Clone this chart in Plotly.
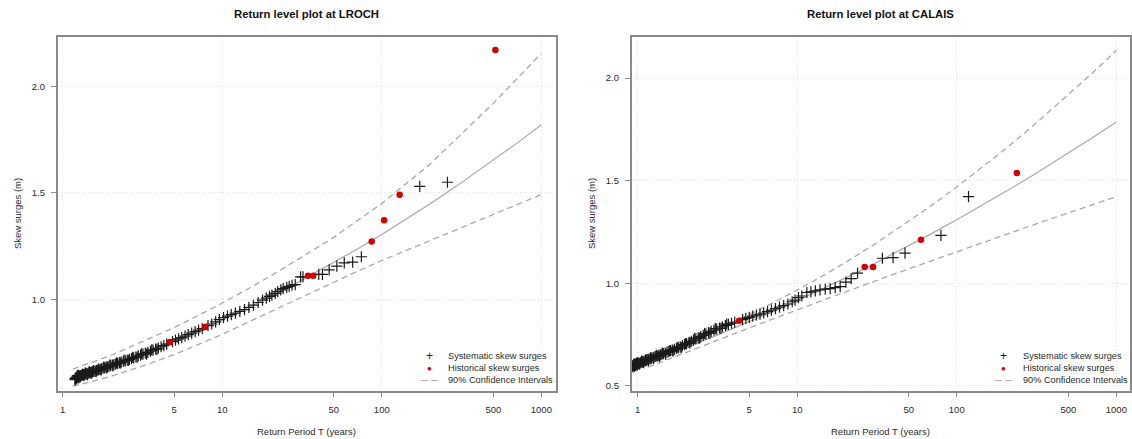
import plotly.graph_objects as go

# ---------------- LROCH ----------------
lroch_sys_T = [
    1.20, 1.21, 1.22, 1.23, 1.24, 1.25, 1.26, 1.27, 1.28,
    1.30, 1.31, 1.32, 1.34, 1.35, 1.37, 1.38, 1.40, 1.42, 1.44, 1.46, 1.48, 1.50, 1.52, 1.54, 1.57, 1.60,
    1.63, 1.66, 1.69, 1.72, 1.75, 1.79, 1.83, 1.87, 1.91, 1.95, 2.00,
    2.05, 2.10, 2.15, 2.21, 2.27, 2.33, 2.40, 2.47, 2.54, 2.62, 2.70, 2.79, 2.88, 2.98,
    3.08, 3.19, 3.30, 3.42, 3.55, 3.69, 3.83, 3.98, 4.14, 4.31, 4.49,
    4.88, 5.10, 5.33, 5.58, 5.85, 6.13, 6.44, 6.77, 7.12, 7.50,
    8.15, 8.60, 9.10, 9.60, 10.2, 10.8, 11.4, 12.1, 12.9, 13.8, 14.7, 15.7, 16.8, 17.9, 18.9,
    19.8, 20.5, 21.5, 22.3, 23.3, 24.1, 25.4, 26.3, 27.4, 28.7,
    31.0, 32.1, 40.3, 42.5, 46.8, 52.3, 58.2, 65.7, 74.5, 173, 258,
    1.195, 1.205, 1.215, 1.225, 1.235, 1.245, 1.255, 1.265, 1.29, 1.33, 1.36,
    1.39, 1.43, 1.47, 1.51, 1.56, 1.62, 1.68, 1.74, 1.81, 1.89, 1.98,
    2.07, 2.18, 2.30, 2.43, 2.58, 2.75, 2.93, 3.13, 3.36, 3.62, 3.90,
]
lroch_sys_v = [
    0.628, 0.632, 0.630, 0.634, 0.633, 0.636, 0.637, 0.638, 0.640,
    0.641, 0.642, 0.643, 0.645, 0.646, 0.647, 0.648, 0.650, 0.651, 0.652, 0.654, 0.655, 0.656, 0.658, 0.659, 0.661, 0.663,
    0.665, 0.667, 0.669, 0.671, 0.673, 0.676, 0.678, 0.681, 0.683, 0.685, 0.688,
    0.691, 0.693, 0.696, 0.699, 0.702, 0.705, 0.708, 0.711, 0.714, 0.718, 0.721, 0.725, 0.729, 0.734,
    0.738, 0.742, 0.747, 0.751, 0.756, 0.761, 0.766, 0.771, 0.777, 0.782, 0.789,
    0.801, 0.808, 0.814, 0.820, 0.827, 0.834, 0.841, 0.848, 0.855, 0.862,
    0.876, 0.884, 0.894, 0.905, 0.914, 0.921, 0.928, 0.935, 0.943, 0.952, 0.962, 0.973, 0.985, 0.996, 1.006,
    1.014, 1.020, 1.028, 1.036, 1.044, 1.050, 1.056, 1.061, 1.066, 1.069,
    1.105, 1.105, 1.117, 1.117, 1.138, 1.156, 1.171, 1.175, 1.200, 1.531, 1.550,
    0.622, 0.625, 0.627, 0.629, 0.640, 0.641, 0.643, 0.631, 0.636, 0.649, 0.641,
    0.654, 0.646, 0.660, 0.652, 0.665, 0.660, 0.672, 0.668, 0.681, 0.678, 0.692,
    0.687, 0.701, 0.700, 0.714, 0.713, 0.727, 0.728, 0.744, 0.742, 0.762, 0.765,
]
lroch_hist_T = [4.7, 7.8, 34.5, 37.2, 86.5, 103.5, 129.5, 515]
lroch_hist_v = [0.800, 0.870, 1.111, 1.111, 1.272, 1.371, 1.491, 2.171]

lroch_curve_T = [1.16, 1.5, 2, 3, 5, 7, 10, 15, 20, 30, 50, 70, 100, 150, 200, 300, 500, 700, 1000]
lroch_fit = [0.630, 0.6574, 0.6897, 0.7383, 0.8045, 0.8512, 0.9032, 0.9658, 1.0123, 1.0808,
             1.1722, 1.2353, 1.305, 1.3875, 1.448, 1.5366, 1.653, 1.7328, 1.82]
lroch_hi = [0.672, 0.7021, 0.7359, 0.7940, 0.8672, 0.9227, 0.9816, 1.0556, 1.108, 1.189,
            1.2911, 1.3685, 1.4506, 1.558, 1.6342, 1.761, 1.9208, 2.0348, 2.1556]
lroch_lo = [0.592, 0.612, 0.638, 0.680, 0.740, 0.785, 0.835, 0.897, 0.940, 1.000,
            1.080, 1.1311, 1.1823, 1.2366, 1.2754, 1.330, 1.3988, 1.4441, 1.4922]

# ---------------- CALAIS ----------------
calais_sys_T = [
    0.93, 0.94, 0.95, 0.96, 0.97, 0.98, 0.99, 1.00, 1.01, 1.02,
    1.04, 1.05, 1.07, 1.08, 1.10, 1.12, 1.14, 1.16, 1.18, 1.20,
    1.22, 1.25, 1.27, 1.30, 1.33, 1.36, 1.39, 1.42, 1.45, 1.49,
    1.53, 1.57, 1.61, 1.65, 1.70, 1.75, 1.80, 1.85, 1.91, 1.97,
    2.03, 2.10, 2.17, 2.24, 2.32, 2.40, 2.49, 2.58, 2.68, 2.78,
    2.89, 3.01, 3.13, 3.26, 3.40, 3.55, 3.71, 3.88, 4.06,
    4.55, 4.77, 5.01, 5.27, 5.55, 5.85, 6.17, 6.52, 6.90, 7.31,
    7.75, 8.23, 8.75, 9.31, 9.70, 10.2, 10.7, 11.5, 12.2, 13.0,
    13.9, 15.0, 16.1, 17.3, 18.6, 20.2, 21.8, 23.9, 34.2, 39.9, 47.4, 79.6, 118.5,
    0.935, 0.945, 0.955, 0.965, 0.975, 0.985, 0.995, 1.005, 1.03, 1.06, 1.09,
    1.13, 1.17, 1.21, 1.26, 1.31, 1.37, 1.43, 1.50, 1.59, 1.67, 1.77,
    1.88, 2.00, 2.13, 2.28, 2.45, 2.63, 2.84, 3.07, 3.33, 3.62,
]
calais_sys_v = [
    0.598, 0.600, 0.601, 0.602, 0.603, 0.605, 0.606, 0.607, 0.608, 0.610,
    0.612, 0.614, 0.616, 0.618, 0.620, 0.623, 0.625, 0.628, 0.630, 0.632,
    0.634, 0.638, 0.640, 0.643, 0.646, 0.648, 0.651, 0.654, 0.657, 0.660,
    0.664, 0.667, 0.671, 0.674, 0.678, 0.682, 0.686, 0.690, 0.696, 0.701,
    0.706, 0.712, 0.717, 0.723, 0.729, 0.734, 0.740, 0.746, 0.752, 0.759,
    0.765, 0.771, 0.777, 0.782, 0.788, 0.794, 0.800, 0.805, 0.810,
    0.823, 0.829, 0.834, 0.840, 0.845, 0.850, 0.855, 0.862, 0.869, 0.876,
    0.884, 0.891, 0.899, 0.910, 0.918, 0.930, 0.938, 0.955, 0.958, 0.963,
    0.968, 0.971, 0.974, 0.979, 0.984, 1.006, 1.023, 1.049, 1.122, 1.125, 1.147, 1.233, 1.422,
    0.592, 0.605, 0.595, 0.608, 0.598, 0.611, 0.601, 0.613, 0.606, 0.620, 0.613,
    0.628, 0.623, 0.638, 0.633, 0.648, 0.643, 0.659, 0.654, 0.672, 0.669, 0.687,
    0.686, 0.706, 0.708, 0.731, 0.733, 0.755, 0.757, 0.779, 0.780, 0.801,
]
calais_hist_T = [4.33, 26.5, 29.9, 59.7, 238]
calais_hist_v = [0.817, 1.079, 1.079, 1.2125, 1.538]

calais_fit_T = [0.93, 1.16, 1.5, 2, 3, 5, 7, 10, 15, 20, 30, 50, 70, 100, 150, 200, 300, 500, 700, 1000]
calais_fit = [0.5914, 0.6179, 0.6496, 0.6862, 0.7400, 0.8114, 0.8606, 0.9146, 0.9783, 1.0251,
              1.0931, 1.1823, 1.2433, 1.3098, 1.3877, 1.4445, 1.5268, 1.6339, 1.7066, 1.7856]
calais_ci_T = [1.16, 1.5, 2, 3, 5, 7, 10, 15, 20, 30, 50, 70, 100, 150, 200, 300, 500, 700, 1000]
calais_hi = [0.6439, 0.6749, 0.7120, 0.7686, 0.8472, 0.9033, 0.9666, 1.0433, 1.1007, 1.1861,
             1.3009, 1.3808, 1.4693, 1.5747, 1.6524, 1.7666, 1.9175, 2.0212, 2.135]
calais_lo = [0.5907, 0.6248, 0.6627, 0.7158, 0.7819, 0.8251, 0.8704, 0.9215, 0.9575, 1.0077,
             1.0704, 1.1112, 1.1541, 1.2024, 1.2364, 1.2839, 1.343, 1.3815, 1.422]

x_tickvals = [1, 5, 10, 50, 100, 500, 1000]
x_ticktext = ["1", "5", "10", "50", "100", "500", "1000"]
x_gridvals = [1, 10, 100, 1000]

legend_labels = ["Systematic skew surges", "Historical skew surges", "90% Confidence Intervals"]

W, H = 1132, 439
FONT = "Liberation Sans, Arial, Helvetica, sans-serif"
CURVE_COL = "#a8a8a8"
BOX_COL = "#8a8a8a"
GRID_COL = "#e2e2e2"
TXT_COL = "#2b2b2b"
PLUS_COL = "#1a1a1a"


def px(x):
    return x / W


def py(y):
    return 1 - y / H


fig = go.Figure()

panels = [
    dict(title="Return level plot at LROCH", xa="x", ya="y", xg="x3",
         sysT=lroch_sys_T, sysv=lroch_sys_v, hT=lroch_hist_T, hv=lroch_hist_v,
         fitT=lroch_curve_T, fit=lroch_fit, ciT=lroch_curve_T, hi=lroch_hi, lo=lroch_lo),
    dict(title="Return level plot at CALAIS", xa="x2", ya="y2", xg="x4",
         sysT=calais_sys_T, sysv=calais_sys_v, hT=calais_hist_T, hv=calais_hist_v,
         fitT=calais_fit_T, fit=calais_fit, ciT=calais_ci_T, hi=calais_hi, lo=calais_lo),
]

for p in panels:
    # empty trace so the overlaid grid-only axis gets drawn
    fig.add_trace(go.Scatter(x=[], y=[], xaxis=p["xg"], yaxis=p["ya"], mode="markers",
                             showlegend=False, hoverinfo="skip"))
    for ci in (p["hi"], p["lo"]):
        fig.add_trace(go.Scatter(x=p["ciT"], y=ci, mode="lines", xaxis=p["xa"], yaxis=p["ya"],
                                 line=dict(color=CURVE_COL, width=1.3, dash="6px,4px"),
                                 showlegend=False, hoverinfo="skip"))
    fig.add_trace(go.Scatter(x=p["fitT"], y=p["fit"], mode="lines", xaxis=p["xa"], yaxis=p["ya"],
                             line=dict(color=CURVE_COL, width=1.2), showlegend=False, hoverinfo="skip"))
    fig.add_trace(go.Scatter(x=p["sysT"], y=p["sysv"], mode="markers", xaxis=p["xa"], yaxis=p["ya"],
                             marker=dict(symbol="cross-thin", size=8, color=PLUS_COL,
                                         line=dict(width=1.2, color=PLUS_COL)),
                             showlegend=False))
    fig.add_trace(go.Scatter(x=p["hT"], y=p["hv"], mode="markers", xaxis=p["xa"], yaxis=p["ya"],
                             marker=dict(symbol="circle", size=6.5, color="#d40000"),
                             showlegend=False))

# plot-region geometry (pixels)
left_box = (57.7, 556.7)
right_box = (632.7, 1132.0)
top_px, bot_px = 37.3, 391.5
ydom = [py(bot_px), py(top_px)]

common_x = dict(type="log", tickmode="array", tickvals=x_tickvals, ticktext=x_ticktext,
                ticks="outside", ticklen=5, tickwidth=1, tickcolor=BOX_COL,
                showline=True, mirror=True, linecolor=BOX_COL, linewidth=1.5,
                showgrid=False, zeroline=False, ticklabelstandoff=4,
                tickfont=dict(family=FONT, size=9.5, color=TXT_COL))
common_y = dict(tickmode="array", ticks="outside", ticklen=5, tickwidth=1, tickcolor=BOX_COL,
                showline=True, mirror=True, linecolor=BOX_COL, linewidth=1.5,
                showgrid=True, gridcolor=GRID_COL, griddash="1px,2px", gridwidth=1,
                zeroline=False, ticklabelstandoff=4,
                tickfont=dict(family=FONT, size=9.5, color=TXT_COL))
grid_x = dict(type="log", tickmode="array", tickvals=x_gridvals, showticklabels=False,
              ticks="", showline=False, zeroline=False,
              showgrid=True, gridcolor=GRID_COL, griddash="1px,2px", gridwidth=1)

lx_range = [-0.0313, 3.090]
rx_range = [-0.0375, 3.0856]

fig.update_layout(
    width=W, height=H, margin=dict(l=0, r=0, t=0, b=0),
    paper_bgcolor="white", plot_bgcolor="white", showlegend=False,
    xaxis=dict(common_x, domain=[px(left_box[0]), px(left_box[1])], range=lx_range, anchor="y"),
    yaxis=dict(common_y, domain=ydom, range=[0.571, 2.2316], anchor="x",
               tickvals=[1.0, 1.5, 2.0], ticktext=["1.0", "1.5", "2.0"]),
    xaxis2=dict(common_x, domain=[px(right_box[0]), px(right_box[1])], range=rx_range, anchor="y2"),
    yaxis2=dict(common_y, domain=ydom, range=[0.4767, 2.1994], anchor="x2",
                tickvals=[0.5, 1.0, 1.5, 2.0], ticktext=["0.5", "1.0", "1.5", "2.0"]),
    xaxis3=dict(grid_x, overlaying="x", anchor="y", range=lx_range,
                domain=[px(left_box[0]), px(left_box[1])]),
    xaxis4=dict(grid_x, overlaying="x2", anchor="y2", range=rx_range,
                domain=[px(right_box[0]), px(right_box[1])]),
)

ann = []
for p, cx, box_l in zip(panels, ((57.7 + 556.7) / 2, (632.7 + 1131.7) / 2), (left_box[0], right_box[0])):
    ann.append(dict(text="<b>" + p["title"] + "</b>", x=px(cx), y=py(14), xref="paper", yref="paper",
                    showarrow=False, xanchor="center", yanchor="middle",
                    font=dict(family=FONT, size=11.3, color="#111111")))
    ann.append(dict(text="Return Period T (years)", x=px(cx), y=py(432), xref="paper", yref="paper",
                    showarrow=False, xanchor="center", yanchor="middle",
                    font=dict(family=FONT, size=9.5, color=TXT_COL)))
    ann.append(dict(text="Skew surges (m)", x=px(box_l - 39.5), y=py((top_px + bot_px) / 2),
                    xref="paper", yref="paper", showarrow=False, textangle=-90,
                    xanchor="center", yanchor="middle",
                    font=dict(family=FONT, size=9.5, color=TXT_COL)))

# legend keys and labels
legend_pos = [(430.0, 447.0), (1005.7, 1023.0)]
rows_y = [357.3, 369.0, 380.7]
for sym_x, txt_x in legend_pos:
    keys = [("+", PLUS_COL, 12), ("\u25cf", "#d40000", 8), ("\u2013 \u2013", CURVE_COL, 12)]
    for (k, col, fs), ry, lab in zip(keys, rows_y, legend_labels):
        ann.append(dict(text=k, x=px(sym_x), y=py(ry), xref="paper", yref="paper", showarrow=False,
                        xanchor="center", yanchor="middle",
                        font=dict(family=FONT, size=fs, color=col)))
        ann.append(dict(text=lab, x=px(txt_x), y=py(ry), xref="paper", yref="paper", showarrow=False,
                        xanchor="left", yanchor="middle",
                        font=dict(family=FONT, size=9.2, color=TXT_COL)))

fig.update_layout(annotations=ann)
fig.write_html("out.html")
